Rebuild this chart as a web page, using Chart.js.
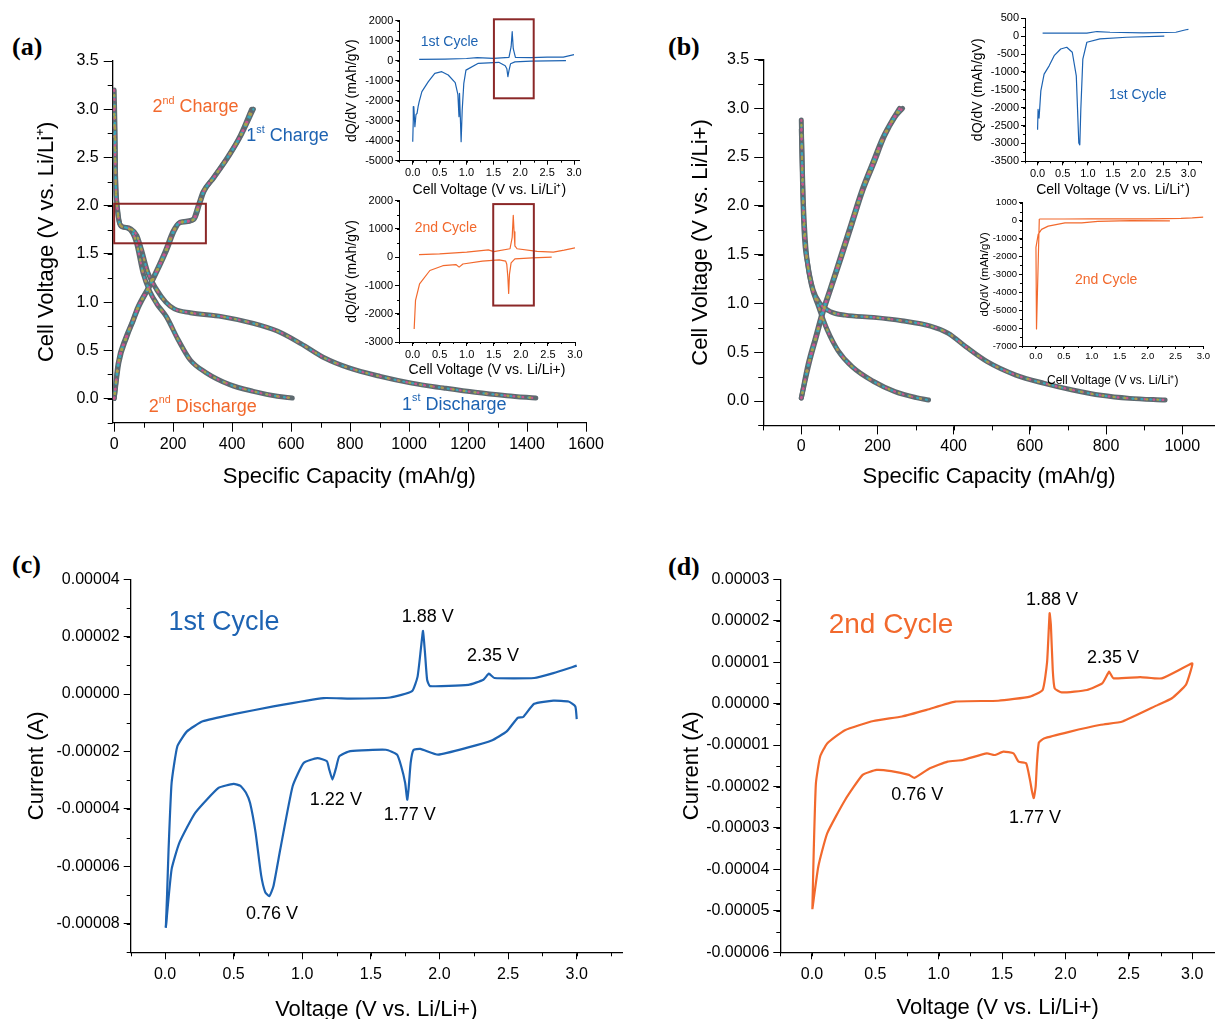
<!DOCTYPE html>
<html><head><meta charset="utf-8">
<script src="https://cdn.jsdelivr.net/npm/chart.js@4.4.0/dist/chart.umd.min.js"></script>
<style>
html,body{margin:0;padding:0;background:#fff;overflow:hidden;width:1215px;height:1019px;}
#page{position:relative;width:1215px;height:1019px;overflow:hidden;}
canvas{position:absolute;}
.lbl{position:absolute;font:bold 26px 'Liberation Serif','Times New Roman',serif;color:#000;line-height:30px;}
</style></head><body><div id="page">
<div class="lbl" style="left:12px;top:32px">(a)</div>
<div class="lbl" style="left:668px;top:32px">(b)</div>
<div class="lbl" style="left:12px;top:550px">(c)</div>
<div class="lbl" style="left:668px;top:552px">(d)</div>
</div>
<script>
// ---------------- DATA ----------------
// Panel (a): galvanostatic curves
const aDis1Cap  = [0, 3, 5, 9, 19, 30, 56, 77, 92, 115, 144, 175, 204, 258, 365, 472, 553, 633, 714, 794, 902, 1009, 1117, 1224, 1332, 1430];
const aDis1Volt = [3.20, 2.78, 2.26, 2.02, 1.81, 1.78, 1.76, 1.69, 1.55, 1.30, 1.13, 1.00, 0.93, 0.89, 0.85, 0.78, 0.70, 0.57, 0.42, 0.32, 0.23, 0.16, 0.11, 0.065, 0.03, 0.005];
const aDis2Cap  = [0, 5, 12, 23, 43, 62, 76, 98, 121, 145, 177, 217, 258, 311, 392, 472, 553, 604];
const aDis2Volt = [3.00, 2.26, 1.95, 1.79, 1.77, 1.72, 1.61, 1.30, 1.11, 0.98, 0.85, 0.61, 0.40, 0.27, 0.145, 0.075, 0.024, 0.005];
const aChg1Cap  = [0, 16, 43, 65, 83, 123, 177, 204, 224, 271, 290, 305, 338, 392, 432, 472];
const aChg1Volt = [0.0, 0.37, 0.64, 0.81, 0.95, 1.18, 1.53, 1.74, 1.83, 1.86, 2.02, 2.15, 2.29, 2.53, 2.74, 3.0];
const aChg2Cap  = [0, 13, 39, 62, 79, 119, 172, 199, 220, 266, 286, 301, 334, 388, 428, 466];
const aChg2Volt = [0.0, 0.36, 0.63, 0.80, 0.94, 1.17, 1.52, 1.73, 1.82, 1.85, 2.01, 2.14, 2.28, 2.52, 2.73, 3.0];
const aXTicks = [0, 200, 400, 600, 800, 1000, 1200, 1400, 1600];
const aYTicks = [0, 0.5, 1.0, 1.5, 2.0, 2.5, 3.0, 3.5];

// Panel (a) insets: dQ/dV
const a1ChgV = [0.12, 0.6, 1.0, 1.2, 1.5, 1.79, 1.83, 1.85, 1.87, 1.91, 2.2, 2.5, 2.8, 3.0];
const a1ChgQ = [70, 80, 110, 150, 120, 170, 700, 1450, 600, 170, 150, 180, 180, 300];
const a1DisV = [2.85, 2.2, 1.9, 1.82, 1.79, 1.77, 1.75, 1.72, 1.6, 1.22, 0.99, 0.95, 0.92, 0.90, 0.885, 0.87, 0.86, 0.84, 0.79, 0.66, 0.54, 0.41, 0.29, 0.17, 0.12, 0.10, 0.08, 0.06, 0.04, 0.02, 0.01, 0.0];
const a1DisQ = [0, -20, -60, -150, -500, -800, -400, -250, -80, -130, -470, -1130, -2470, -4050, -2800, -1630, -2800, -1700, -1100, -715, -550, -630, -1050, -1550, -2050, -2300, -2630, -2700, -3300, -2300, -2965, -4050];
const a2ChgV = [0.12, 0.5, 1.0, 1.4, 1.5, 1.8, 1.84, 1.86, 1.875, 1.89, 1.93, 2.3, 2.6, 2.8, 3.0];
const a2ChgQ = [95, 120, 180, 260, 200, 300, 700, 1480, 900, 400, 300, 210, 180, 250, 330];
const a2DisV = [2.57, 2.21, 1.89, 1.82, 1.79, 1.775, 1.76, 1.74, 1.72, 1.60, 1.29, 0.93, 0.86, 0.80, 0.56, 0.32, 0.13, 0.055, 0.03];
const a2DisQ = [0, -25, -60, -200, -600, -1280, -700, -250, -140, -95, -140, -240, -350, -260, -300, -470, -940, -1530, -2540];
const insXTicks = [0, 0.5, 1.0, 1.5, 2.0, 2.5, 3.0];
const a1YTicks = [-5000, -4000, -3000, -2000, -1000, 0, 1000, 2000];
const a2YTicks = [-3000, -2000, -1000, 0, 1000, 2000];

// Panel (b): galvanostatic curves
const bDis1Cap  = [0, 3, 7, 17, 31, 49, 77, 115, 190, 264, 339, 386, 432, 488, 563, 638, 712, 787, 862, 955];
const bDis1Volt = [2.88, 2.26, 1.75, 1.40, 1.14, 1.00, 0.915, 0.88, 0.857, 0.823, 0.768, 0.693, 0.556, 0.403, 0.266, 0.181, 0.113, 0.058, 0.027, 0.01];
const bDis2Cap  = [0, 5, 12, 26, 45, 68, 96, 134, 190, 246, 302, 334];
const bDis2Volt = [2.78, 2.09, 1.58, 1.20, 0.97, 0.73, 0.52, 0.35, 0.20, 0.096, 0.034, 0.01];
const bChg1Cap  = [0, 21, 40, 59, 77, 106, 134, 162, 190, 218, 246, 266];
const bChg1Volt = [0.03, 0.39, 0.66, 0.93, 1.14, 1.48, 1.82, 2.16, 2.43, 2.71, 2.91, 3.0];
const bChg2Cap  = [0, 18, 37, 56, 74, 102, 130, 158, 186, 214, 242, 258];
const bChg2Volt = [0.03, 0.38, 0.65, 0.92, 1.13, 1.47, 1.81, 2.15, 2.43, 2.70, 2.90, 3.0];
const bXTicks = [0, 200, 400, 600, 800, 1000];
const bYTicks = [0, 0.5, 1.0, 1.5, 2.0, 2.5, 3.0, 3.5];

// Panel (b) insets
const b1DisV = [2.52, 1.77, 1.24, 0.98, 0.90, 0.86, 0.84, 0.82, 0.77, 0.69, 0.58, 0.46, 0.33, 0.23, 0.13, 0.065, 0.03, 0.01, 0.0];
const b1DisQ = [0, -30, -75, -170, -640, -2050, -3040, -2990, -1110, -450, -310, -360, -545, -830, -1060, -1530, -2290, -2050, -2615];
const b1ChgV = [0.1, 0.98, 1.18, 1.44, 2.10, 2.75, 2.95, 3.0];
const b1ChgQ = [85, 85, 130, 110, 95, 110, 180, 190];
const b2DisV = [2.4, 1.7, 1.11, 0.82, 0.52, 0.22, 0.10, 0.04, 0.0, 0.01, 0.06];
const b2DisQ = [-20, 0, -40, -130, -130, -310, -490, -765, -1490, -6050, 90];
const b2ChgV = [0.06, 0.5, 1.0, 2.0, 2.6, 2.8, 3.0];
const b2ChgQ = [90, 90, 95, 100, 120, 150, 200];
const b1YTicks = [-3500, -3000, -2500, -2000, -1500, -1000, -500, 0, 500];
const b2YTicks = [-7000, -6000, -5000, -4000, -3000, -2000, -1000, 0, 1000];

// Panel (c): CV 1st cycle
const cUpV = [0.006, 0.015, 0.026, 0.048, 0.09, 0.16, 0.275, 0.50, 0.79, 1.155, 1.35, 1.64, 1.80, 1.84, 1.865, 1.88, 1.895, 1.91, 1.93, 2.21, 2.32, 2.36, 2.40, 2.69, 2.83, 3.0];
const cUpI = [-8.14e-5, -7.0e-5, -5.41e-5, -3.1e-5, -1.82e-5, -1.30e-5, -0.95e-5, -0.70e-5, -0.43e-5, -0.14e-5, -0.16e-5, -0.12e-5, 0.1e-5, 0.6e-5, 1.6e-5, 2.2e-5, 1.4e-5, 0.5e-5, 0.28e-5, 0.32e-5, 0.5e-5, 0.71e-5, 0.56e-5, 0.56e-5, 0.73e-5, 0.99e-5];
const cDnV = [3.0, 2.99, 2.94, 2.83, 2.69, 2.61, 2.57, 2.49, 2.38, 2.21, 1.99, 1.86, 1.81, 1.79, 1.775, 1.765, 1.75, 1.72, 1.69, 1.61, 1.35, 1.27, 1.245, 1.22, 1.195, 1.18, 1.11, 1.01, 0.93, 0.84, 0.79, 0.76, 0.73, 0.70, 0.66, 0.62, 0.59, 0.55, 0.50, 0.39, 0.22, 0.105, 0.048, 0.006];
const cDnI = [-0.87e-5, -0.43e-5, -0.26e-5, -0.23e-5, -0.34e-5, -0.80e-5, -0.83e-5, -1.30e-5, -1.62e-5, -1.86e-5, -2.11e-5, -1.91e-5, -1.95e-5, -2.4e-5, -3.3e-5, -3.68e-5, -3.1e-5, -2.5e-5, -2.11e-5, -1.94e-5, -1.99e-5, -2.17e-5, -2.6e-5, -2.98e-5, -2.6e-5, -2.34e-5, -2.23e-5, -2.40e-5, -3.21e-5, -5.41e-5, -6.7e-5, -7.04e-5, -6.9e-5, -6.3e-5, -4.83e-5, -3.8e-5, -3.44e-5, -3.2e-5, -3.13e-5, -3.27e-5, -4.14e-5, -5.18e-5, -6.11e-5, -8.14e-5];
const cdXTicks = [0, 0.5, 1.0, 1.5, 2.0, 2.5, 3.0];
const cYTicks = [-8e-5, -6e-5, -4e-5, -2e-5, 0, 2e-5, 4e-5];

// Panel (d): CV 2nd cycle
const dVolt = [0.003, 0.014, 0.031, 0.064, 0.12, 0.26, 0.485, 0.71, 0.905, 1.13, 1.47, 1.72, 1.82, 1.855, 1.875, 1.885, 1.90, 1.915, 1.97, 2.17, 2.29, 2.33, 2.345, 2.38, 2.59, 2.76, 3.0,
  2.99, 2.95, 2.84, 2.73, 2.45, 2.28, 2.03, 1.83, 1.79, 1.775, 1.765, 1.75, 1.735, 1.72, 1.69, 1.63, 1.59, 1.51, 1.44, 1.38, 1.19, 1.07, 0.93, 0.81, 0.765, 0.625, 0.51, 0.40, 0.26, 0.12, 0.05, 0.003];
const dCurr = [-4.96e-5, -3.53e-5, -1.92e-5, -1.28e-5, -0.96e-5, -0.64e-5, -0.42e-5, -0.31e-5, -0.15e-5, 0.05e-5, 0.07e-5, 0.17e-5, 0.33e-5, 1.0e-5, 2.18e-5, 1.9e-5, 0.8e-5, 0.37e-5, 0.27e-5, 0.33e-5, 0.49e-5, 0.7e-5, 0.77e-5, 0.61e-5, 0.64e-5, 0.61e-5, 0.97e-5,
  0.81e-5, 0.45e-5, 0.13e-5, -0.03e-5, -0.43e-5, -0.51e-5, -0.68e-5, -0.84e-5, -0.94e-5, -1.44e-5, -2.0e-5, -2.28e-5, -2.1e-5, -1.84e-5, -1.44e-5, -1.40e-5, -1.20e-5, -1.16e-5, -1.24e-5, -1.20e-5, -1.36e-5, -1.40e-5, -1.56e-5, -1.79e-5, -1.72e-5, -1.63e-5, -1.60e-5, -1.72e-5, -2.33e-5, -3.13e-5, -3.93e-5, -4.96e-5];
const dYTicks = [-6e-5, -5e-5, -4e-5, -3e-5, -2e-5, -1e-5, 0, 1e-5, 2e-5, 3e-5];

// ---------------- STYLE ----------------
const FONT = "'Liberation Sans', Arial, Helvetica, sans-serif";
const BLUE = '#1d63b2', ORANGE = '#f2692d', BOXC = '#8b2828';
const pts = (xs, ys) => xs.map((x, i) => ({x, y: ys[i]}));
const fnt = s => s + "px " + FONT;

const notesPlugin = {
  id: 'notes',
  afterDraw(chart, args, opts) {
    const ctx = chart.ctx, xs = chart.scales.x, ys = chart.scales.y;
    (opts.boxes || []).forEach(b => {
      ctx.save(); ctx.strokeStyle = b.color; ctx.lineWidth = b.width;
      const x1 = xs.getPixelForValue(b.x1), x2 = xs.getPixelForValue(b.x2);
      const y1 = ys.getPixelForValue(b.y1), y2 = ys.getPixelForValue(b.y2);
      ctx.strokeRect(x1, y1, x2 - x1, y2 - y1); ctx.restore();
    });
    (opts.items || []).forEach(n => {
      ctx.save(); ctx.fillStyle = n.color || '#000'; ctx.textBaseline = 'middle'; ctx.textAlign = 'left';
      const parts = n.parts || [{t: n.text}];
      let w = 0;
      parts.forEach(p => { ctx.font = fnt(p.sup ? n.size * 0.6 : n.size); w += ctx.measureText(p.t).width; });
      let x = xs.getPixelForValue(n.x); const y = ys.getPixelForValue(n.y);
      if (n.align === 'center') x -= w / 2;
      parts.forEach(p => {
        const sz = p.sup ? n.size * 0.6 : n.size; ctx.font = fnt(sz);
        ctx.fillText(p.t, x, p.sup ? y - n.size * 0.36 : y); x += ctx.measureText(p.t).width;
      });
      ctx.restore();
    });
  }
};
const minorPlugin = {
  id: 'minor',
  afterDraw(chart, args, opts) {
    const ctx = chart.ctx; ctx.save(); ctx.strokeStyle = '#000'; ctx.lineWidth = 1;
    [['x', opts.x], ['y', opts.y]].forEach(([id, step]) => {
      if (!step) return;
      const s = chart.scales[id];
      for (let k = Math.ceil(s.min / step - 1e-6); k * step <= s.max + 1e-12; k++) {
        const p = Math.round(s.getPixelForValue(k * step)) + 0.5;
        ctx.beginPath();
        if (id === 'x') { ctx.moveTo(p, s.top); ctx.lineTo(p, s.top + opts.len); }
        else { ctx.moveTo(s.right, p); ctx.lineTo(s.right - opts.len, p); }
        ctx.stroke();
      }
    });
    ctx.restore();
  }
};
Chart.register(notesPlugin, minorPlugin);

function axis(o) {
  return {
    type: 'linear', min: o.min, max: o.max,
    afterBuildTicks: s => { s.ticks = o.ticks.map(v => ({value: v})); },
    afterFit: s => { if (o.w != null) s.width = o.w; if (o.h != null) s.height = o.h; },
    ticks: { callback: o.fmt, font: {family: FONT, size: o.ts}, color: '#000', padding: o.pad, maxRotation: 0, autoSkip: false },
    grid: { drawOnChartArea: false, drawTicks: true, tickLength: o.tl, color: '#000', lineWidth: 1 },
    border: { display: true, color: '#000', width: o.bw || 1.3 },
    title: { display: true, text: o.title, font: {family: FONT, size: o.tts}, color: '#000', padding: {top: o.tp, bottom: o.tp} }
  };
}

function make(box, area, datasets, xo, yo, plugins) {
  const [L, T, R, B] = box, [l, t, r, b] = area;
  const cv = document.createElement('canvas');
  cv.width = R - L; cv.height = B - T;
  cv.style.left = L + 'px'; cv.style.top = T + 'px';
  document.getElementById('page').appendChild(cv);
  xo.h = B - b; yo.w = l - L;
  new Chart(cv, {
    type: 'scatter',
    data: { datasets },
    options: {
      responsive: false, animation: false, devicePixelRatio: 1,
      layout: { padding: { left: 0, top: t - T, right: R - r, bottom: 0 } },
      scales: { x: axis(xo), y: axis(yo) },
      plugins: Object.assign({ legend: {display: false}, tooltip: {enabled: false} }, plugins)
    }
  });
}

function speckled(data) {
  return [
    {data, borderColor: '#5e6a70', borderWidth: 5, order: 10},
    {data, borderColor: '#c9578f', borderWidth: 2.2, borderDash: [1, 8], borderDashOffset: 0, order: 3},
    {data, borderColor: '#3aa6b8', borderWidth: 2.2, borderDash: [1, 8], borderDashOffset: 3, order: 2},
    {data, borderColor: '#a7a24a', borderWidth: 2.2, borderDash: [1, 10], borderDashOffset: 6, order: 1}
  ].map(d => Object.assign({showLine: true, pointRadius: 0, cubicInterpolationMode: 'monotone', borderCapStyle: 'round', fill: false}, d));
}
const line = (data, color, w, tension) => ({data, showLine: true, pointRadius: 0, borderColor: color, borderWidth: w, tension: tension || 0, fill: false, borderJoinStyle: 'round'});

const f1 = v => v.toFixed(1), f0 = v => String(Math.round(v)), f5 = v => v.toFixed(5);

// ---------------- PANEL (a) ----------------
make([30, 40, 615, 494], [112.7, 61, 586, 422.7],
  [].concat(speckled(pts(aDis1Cap, aDis1Volt)), speckled(pts(aDis2Cap, aDis2Volt)), speckled(pts(aChg1Cap, aChg1Volt)), speckled(pts(aChg2Cap, aChg2Volt))),
  {min: -5, max: 1600, ticks: aXTicks, fmt: f0, ts: 16, pad: 3, tl: 9, title: 'Specific Capacity (mAh/g)', tts: 22, tp: 4},
  {min: -0.25, max: 3.5, ticks: aYTicks, fmt: f1, ts: 16, pad: 5, tl: 9, title: 'Cell Voltage (V vs. Li/Li\u207A)', tts: 22, tp: 4},
  { minor: {x: 100, y: 0.25, len: 5},
    notes: { boxes: [{x1: 0, x2: 311, y1: 2.02, y2: 1.61, color: BOXC, width: 2}],
      items: [
        {parts: [{t: '2'}, {t: 'nd', sup: true}, {t: ' Charge'}], x: 130, y: 3.02, size: 18, color: ORANGE},
        {parts: [{t: '1'}, {t: 'st', sup: true}, {t: ' Charge'}], x: 448, y: 2.72, size: 18, color: BLUE},
        {parts: [{t: '2'}, {t: 'nd', sup: true}, {t: ' Discharge'}], x: 117, y: -0.084, size: 18, color: ORANGE},
        {parts: [{t: '1'}, {t: 'st', sup: true}, {t: ' Discharge'}], x: 976, y: -0.066, size: 18, color: BLUE}
      ] } });

make([341, 8, 600, 202], [399.3, 20.7, 579.4, 160.7],
  [line(pts(a1ChgV, a1ChgQ), BLUE, 1.2), line(pts(a1DisV, a1DisQ), BLUE, 1.2)],
  {min: -0.25, max: 3.1, ticks: insXTicks, fmt: f1, ts: 11, pad: 2, tl: 4, bw: 1, title: 'Cell Voltage (V vs. Li/Li\u207A)', tts: 14, tp: 3},
  {min: -5000, max: 2000, ticks: a1YTicks, fmt: f0, ts: 11, pad: 2, tl: 4, bw: 1, title: 'dQ/dV (mAh/gV)', tts: 14, tp: 3},
  { minor: {x: 0.25, y: 500, len: 2},
    notes: { boxes: [{x1: 1.51, x2: 2.25, y1: 2070, y2: -1880, color: BOXC, width: 2}],
      items: [{text: '1st Cycle', x: 0.15, y: 920, size: 14, color: BLUE}] } });

make([341, 190, 600, 382], [399, 200.7, 575, 342],
  [line(pts(a2ChgV, a2ChgQ), ORANGE, 1.2), line(pts(a2DisV, a2DisQ), ORANGE, 1.2)],
  {min: -0.25, max: 3.0, ticks: insXTicks, fmt: f1, ts: 11, pad: 2, tl: 4, bw: 1, title: 'Cell Voltage (V vs. Li/Li+)', tts: 14, tp: 3},
  {min: -3000, max: 2000, ticks: a2YTicks, fmt: f0, ts: 11, pad: 2, tl: 4, bw: 1, title: 'dQ/dV (mAh/gV)', tts: 14, tp: 3},
  { minor: {x: 0.25, y: 500, len: 2},
    notes: { boxes: [{x1: 1.49, x2: 2.24, y1: 1880, y2: -1710, color: BOXC, width: 2}],
      items: [{text: '2nd Cycle', x: 0.04, y: 1018, size: 14, color: ORANGE}] } });

// ---------------- PANEL (b) ----------------
make([684, 40, 1215, 494], [763.2, 59.5, 1215, 425.4],
  [].concat(speckled(pts(bDis1Cap, bDis1Volt)), speckled(pts(bDis2Cap, bDis2Volt)), speckled(pts(bChg1Cap, bChg1Volt)), speckled(pts(bChg2Cap, bChg2Volt))),
  {min: -100, max: 1086, ticks: bXTicks, fmt: f0, ts: 16, pad: 3, tl: 9, title: 'Specific Capacity (mAh/g)', tts: 22, tp: 4},
  {min: -0.25, max: 3.5, ticks: bYTicks, fmt: f1, ts: 16, pad: 5, tl: 9, title: 'Cell Voltage (V vs. Li/Li+)', tts: 22, tp: 4},
  { minor: {x: 100, y: 0.25, len: 5} });

make([967, 8, 1212, 202], [1025, 18.3, 1201, 161.3],
  [line(pts(b1ChgV, b1ChgQ), BLUE, 1.2), line(pts(b1DisV, b1DisQ), BLUE, 1.2)],
  {min: -0.25, max: 3.25, ticks: insXTicks, fmt: f1, ts: 11, pad: 2, tl: 4, bw: 1, title: 'Cell Voltage (V vs. Li/Li\u207A)', tts: 14, tp: 3},
  {min: -3500, max: 500, ticks: b1YTicks, fmt: f0, ts: 11, pad: 2, tl: 4, bw: 1, title: 'dQ/dV (mAh/gV)', tts: 14, tp: 3},
  { minor: {x: 0.25, y: 250, len: 2},
    notes: { items: [{text: '1st Cycle', x: 1.42, y: -1659, size: 14, color: BLUE}] } });

make([975, 193, 1212, 391], [1022, 202.7, 1204, 346],
  [line(pts(b2ChgV, b2ChgQ), ORANGE, 1.2), line(pts(b2DisV, b2DisQ), ORANGE, 1.2)],
  {min: -0.25, max: 3.0, ticks: insXTicks, fmt: f1, ts: 9.5, pad: 2, tl: 3, bw: 1, title: 'Cell Voltage (V vs. Li/Li\u207A)', tts: 12, tp: 3},
  {min: -7000, max: 1000, ticks: b2YTicks, fmt: f0, ts: 9.5, pad: 2, tl: 3, bw: 1, title: 'dQ/dV (mAh/gV)', tts: 11.5, tp: 3},
  { minor: {x: 0.25, y: 500, len: 2},
    notes: { items: [{text: '2nd Cycle', x: 0.70, y: -3317, size: 14, color: ORANGE}] } });

// ---------------- PANEL (c) ----------------
make([20, 565, 630, 1027], [130.7, 579.3, 622, 952.3],
  [line(pts(cUpV, cUpI), BLUE, 2.2, 0.15), line(pts(cDnV, cDnI), BLUE, 2.2, 0.15)],
  {min: -0.25, max: 3.33, ticks: cdXTicks, fmt: f1, ts: 16, pad: 6, tl: 7, title: 'Voltage (V vs. Li/Li+)', tts: 22, tp: 4},
  {min: -9e-5, max: 4e-5, ticks: cYTicks, fmt: f5, ts: 16, pad: 4, tl: 7, title: 'Current (A)', tts: 22, tp: 4},
  { minor: {x: 0.25, y: 1e-5, len: 4},
    notes: { items: [
      {text: '1st Cycle', x: 0.026, y: 2.51e-5, size: 27, color: BLUE},
      {text: '1.88 V', x: 1.915, y: 2.70e-5, size: 18, align: 'center'},
      {text: '2.35 V', x: 2.39, y: 1.31e-5, size: 18, align: 'center'},
      {text: '1.22 V', x: 1.245, y: -3.68e-5, size: 18, align: 'center'},
      {text: '1.77 V', x: 1.784, y: -4.22e-5, size: 18, align: 'center'},
      {text: '0.76 V', x: 0.779, y: -7.65e-5, size: 18, align: 'center'}
    ] } });

// ---------------- PANEL (d) ----------------
make([675, 565, 1215, 1025], [780.3, 579.3, 1215, 952.3],
  [line(pts(dVolt, dCurr), ORANGE, 2.2, 0.15)],
  {min: -0.25, max: 3.18, ticks: cdXTicks, fmt: f1, ts: 16, pad: 6, tl: 7, title: 'Voltage (V vs. Li/Li+)', tts: 22, tp: 4},
  {min: -6e-5, max: 3e-5, ticks: dYTicks, fmt: f5, ts: 16, pad: 4, tl: 7, title: 'Current (A)', tts: 22, tp: 4},
  { minor: {x: 0.25, y: 0.5e-5, len: 4},
    notes: { items: [
      {text: '2nd Cycle', x: 0.132, y: 1.90e-5, size: 28, color: ORANGE},
      {text: '1.88 V', x: 1.894, y: 2.50e-5, size: 18, align: 'center'},
      {text: '2.35 V', x: 2.375, y: 1.10e-5, size: 18, align: 'center'},
      {text: '0.76 V', x: 0.83, y: -2.20e-5, size: 18, align: 'center'},
      {text: '1.77 V', x: 1.76, y: -2.75e-5, size: 18, align: 'center'}
    ] } });
</script></body></html>
